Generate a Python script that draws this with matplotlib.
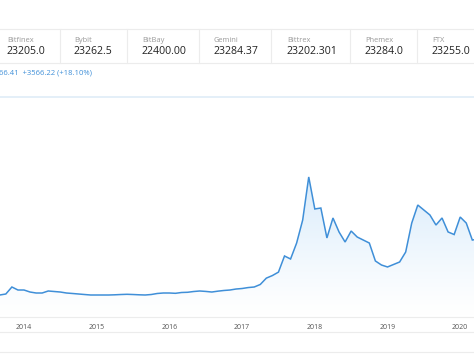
import numpy as np
import matplotlib
matplotlib.use("Agg")
import matplotlib.pyplot as plt
from matplotlib.patches import Polygon

plt.rcParams['font.family'] = ['Open Sans', 'DejaVu Sans']

# ---- data ----
exchanges = ["Bitfinex", "Bybit", "BitBay", "Gemini", "Bittrex", "Phemex", "FTX"]
prices = ["23205.0", "23262.5", "22400.00", "23284.37", "23202.301", "23284.0", "23255.0"]
change_text = "66.41  +3566.22 (+18.10%)"

months = ["2013-08", "2013-09", "2013-10", "2013-11", "2013-12",
          "2014-01", "2014-02", "2014-03", "2014-04", "2014-05", "2014-06",
          "2014-07", "2014-08", "2014-09", "2014-10", "2014-11", "2014-12",
          "2015-01", "2015-02", "2015-03", "2015-04", "2015-05", "2015-06",
          "2015-07", "2015-08", "2015-09", "2015-10", "2015-11", "2015-12",
          "2016-01", "2016-02", "2016-03", "2016-04", "2016-05", "2016-06",
          "2016-07", "2016-08", "2016-09", "2016-10", "2016-11", "2016-12",
          "2017-01", "2017-02", "2017-03", "2017-04", "2017-05", "2017-06",
          "2017-07", "2017-08", "2017-09", "2017-10", "2017-11", "2017-12",
          "2018-01", "2018-02", "2018-03", "2018-04", "2018-05", "2018-06",
          "2018-07", "2018-08", "2018-09", "2018-10", "2018-11", "2018-12",
          "2019-01", "2019-02", "2019-03", "2019-04", "2019-05", "2019-06",
          "2019-07", "2019-08", "2019-09", "2019-10", "2019-11", "2019-12",
          "2020-01", "2020-02", "2020-03", "2020-04"]
values = [120, 233, 350, 1165, 815,
          815, 580, 466, 466, 700, 640,
          580, 466, 410, 350, 290, 233,
          233, 233, 233, 256, 290, 315,
          290, 256, 233, 290, 410, 466,
          466, 430, 525, 550, 640, 700,
          650, 580, 680, 760, 815, 930,
          990, 1100, 1165, 1460, 2200, 2500,
          2900, 4780, 4430, 6290, 8970, 13990,
          10260, 10370, 6880, 9210, 7580, 6410,
          7690, 6990, 6640, 6290, 4200, 3730,
          3500, 3790, 4080, 5240, 8620, 10720,
          10140, 9560, 8390, 9210, 7580, 7280,
          9320, 8620, 6640, 6760]
year_ticks = [2014, 2015, 2016, 2017, 2018, 2019, 2020]

# ---- figure ----
W, H = 474, 355
fig = plt.figure(figsize=(W / 100, H / 100), dpi=100)

# overlay axes in pixel coordinates for the page chrome
ov = fig.add_axes([0, 0, 1, 1])
ov.set_xlim(0, W)
ov.set_ylim(H, 0)
ov.axis('off')

grey_line = '#ececec'
ov.plot([0, W], [29, 29], color=grey_line, lw=0.8)
ov.plot([0, W], [63, 63], color=grey_line, lw=0.8)
dividers = [60, 127, 199, 271, 350, 417]
for d in dividers:
    ov.plot([d, d], [29, 63], color=grey_line, lw=0.8)
text_x = [7, 74, 142, 214, 287, 365, 432]
for tx, name, p in zip(text_x, exchanges, prices):
    ov.text(tx, 40.5, name, fontsize=5.4, color='#9a9a9a', va='center', ha='left')
    ov.text(tx, 51.5, p, fontsize=7.6, color='#222222', va='center', ha='left')
ov.text(-1.5, 73, change_text, fontsize=5.5, color='#3f8fd8', va='center', ha='left')

ov.plot([0, W], [97, 97], color='#e2eef8', lw=1.3)
ov.plot([0, W], [317, 317], color=grey_line, lw=0.8)
ov.plot([0, W], [332, 332], color=grey_line, lw=0.8)
ov.plot([0, W], [352, 352], color=grey_line, lw=0.8)

# chart axes
top_px, bot_px = 97, 317
ax = fig.add_axes([0, 1 - bot_px / H, 1, (bot_px - top_px) / H])
ax.patch.set_alpha(0)
x0 = 2014 - 24 / 72.7
x1 = 2014 + 450 / 72.7
ymin, ymax = -2331, 23310
ax.set_xlim(x0, x1)
ax.set_ylim(ymin, ymax)
for s in ax.spines.values():
    s.set_visible(False)
ax.set_yticks([])
ax.set_xticks(year_ticks)
ax.set_xticklabels([str(y) for y in year_ticks], fontsize=5.0, color='#555555')
ax.tick_params(axis='x', length=0, pad=5.0)

xs = np.array([int(m[:4]) + (int(m[5:]) - 1) / 12 for m in months])
ys = np.array(values, dtype=float)

# gradient fill under line
verts = np.vstack([np.column_stack([xs, ys]),
                   [[xs[-1], ymin], [xs[0], ymin]]])
poly = Polygon(verts, closed=True, facecolor='none', edgecolor='none')
ax.add_patch(poly)
n = 256
alpha = np.linspace(0, 1, n) ** 1.2 * 1.0
grad = np.zeros((n, 1, 4))
grad[:, 0, 0] = 0.85
grad[:, 0, 1] = 0.925
grad[:, 0, 2] = 0.985
grad[:, 0, 3] = alpha
im = ax.imshow(grad, extent=[x0, x1, ymin, ys.max()], origin='lower',
               aspect='auto', zorder=1, interpolation='bilinear')
im.set_clip_path(poly)

ax.plot(xs, ys, color='#3f8fd8', lw=1.1, zorder=2, solid_joinstyle='miter')
ax.set_xlim(x0, x1)
ax.set_ylim(ymin, ymax)

fig.savefig('out.png', dpi=100)
